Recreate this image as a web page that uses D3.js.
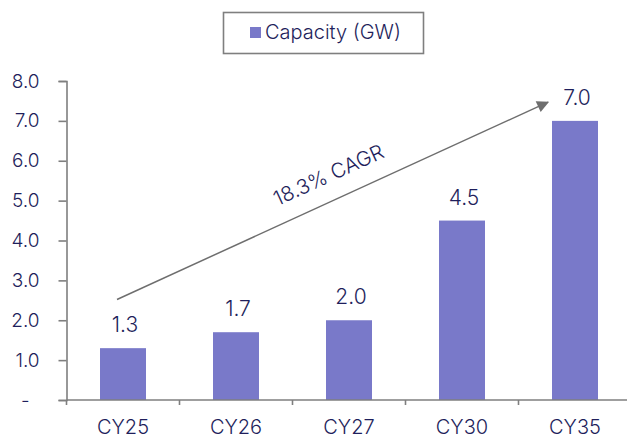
<!DOCTYPE html>
<html>
<head>
<meta charset="utf-8">
<script src="https://cdn.jsdelivr.net/npm/d3@7"></script>
<style>
  html, body { margin: 0; padding: 0; background: #fff; }
  svg { display: block; font-family: Inter, "Liberation Sans", Arial, sans-serif; font-weight: 300; }
</style>
</head>
<body>
<svg id="chart" width="627" height="439"></svg>
<script>
// Installed capacity by calendar year
const categories = ["CY25", "CY26", "CY27", "CY30", "CY35"];
const capacityGW = [1.3, 1.7, 2.0, 4.5, 7.0];
const yTicks = [0, 1, 2, 3, 4, 5, 6, 7, 8];
const seriesName = "Capacity (GW)";
const cagrLabel = "18.3% CAGR";
// growth arrow: [category, value] at each end
const arrowFrom = ["CY25", 2.52];
const arrowTo = ["CY35", 7.47];

const W = 627, H = 439;
const textColor = "#1f1f5c";
const barColor = "#7979c9";
const axisColor = "#7f7f7f";

const svg = d3.select("#chart");

const x = d3.scaleBand()
  .domain(categories)
  .range([66.5, 631.5])
  .paddingInner(0.593)
  .paddingOuter(0.2965);

const y = d3.scaleLinear().domain([0, 8]).range([400, 81]);

// bars
svg.append("g").selectAll("rect")
  .data(categories)
  .join("rect")
  .attr("x", d => x(d))
  .attr("width", x.bandwidth())
  .attr("y", (d, i) => y(capacityGW[i]))
  .attr("height", (d, i) => y(0) - y(capacityGW[i]))
  .attr("fill", barColor);

// value labels
svg.append("g").selectAll("text")
  .data(categories)
  .join("text")
  .attr("x", d => x(d) + x.bandwidth() / 2 + 2)
  .attr("y", (d, i) => y(capacityGW[i]) - 16)
  .attr("text-anchor", "middle")
  .attr("font-size", 21)
  .attr("fill", textColor)
  .text((d, i) => d3.format(".1f")(capacityGW[i]));

// y axis
const yAxis = svg.append("g")
  .attr("transform", `translate(${x.range()[0]},0)`)
  .call(d3.axisLeft(y)
    .tickValues(yTicks)
    .tickSize(8)
    .tickPadding(19)
    .tickFormat(v => v === 0 ? "-" : d3.format(".1f")(v)));
yAxis.select(".domain").attr("stroke", axisColor).attr("stroke-width", 1.6);
yAxis.selectAll(".tick line").attr("stroke", axisColor).attr("stroke-width", 1.6);
yAxis.selectAll(".tick text")
  .attr("font-size", 19)
  .attr("font-family", "Inter, 'Liberation Sans', Arial, sans-serif")
  .attr("font-weight", 300)
  .attr("fill", textColor)
  .attr("dx", v => v === 0 ? -10 : 0);

// x axis: baseline, boundary ticks, category labels
const xg = svg.append("g");
xg.append("line")
  .attr("x1", x.range()[0]).attr("x2", W)
  .attr("y1", y(0)).attr("y2", y(0))
  .attr("stroke", axisColor).attr("stroke-width", 1.6);
const bounds = d3.range(categories.length + 1).map(i => x.range()[0] + i * x.step());
xg.selectAll(".bt")
  .data(bounds)
  .join("line")
  .attr("x1", d => d).attr("x2", d => d)
  .attr("y1", y(0)).attr("y2", y(0) + 5)
  .attr("stroke", axisColor).attr("stroke-width", 1.6);
xg.selectAll("text")
  .data(categories)
  .join("text")
  .attr("x", d => x(d) + x.bandwidth() / 2)
  .attr("y", 434)
  .attr("text-anchor", "middle")
  .attr("font-size", 20)
  .attr("fill", textColor)
  .text(d => d);

// CAGR arrow
const defs = svg.append("defs");
defs.append("marker")
  .attr("id", "arrowhead")
  .attr("viewBox", "0 0 10 10")
  .attr("refX", 9).attr("refY", 5)
  .attr("markerUnits", "userSpaceOnUse")
  .attr("markerWidth", 16).attr("markerHeight", 12)
  .attr("orient", "auto")
  .append("path")
  .attr("d", "M0,0 L10,5 L0,10 Z")
  .attr("fill", "#6e6e6e");

const p0 = [x(arrowFrom[0]) + x.bandwidth() / 2 - 6, y(arrowFrom[1])];
const p1 = [x(arrowTo[0]) + x.bandwidth() / 2 - 27, y(arrowTo[1])];
svg.append("line")
  .attr("x1", p0[0]).attr("y1", p0[1])
  .attr("x2", p1[0]).attr("y2", p1[1])
  .attr("stroke", "#6e6e6e").attr("stroke-width", 1.5)
  .attr("marker-end", "url(#arrowhead)");

const dx = p1[0] - p0[0], dy = p1[1] - p0[1];
const len = Math.hypot(dx, dy);
const ang = Math.atan2(dy, dx) * 180 / Math.PI;
const t = 0.515, off = 18;
const nx = dy / len, ny = -dx / len; // normal pointing up-left
const tx = p0[0] + dx * t + nx * off;
const ty = p0[1] + dy * t + ny * off;
svg.append("text")
  .attr("transform", `translate(${tx},${ty}) rotate(${ang})`)
  .attr("text-anchor", "middle")
  .attr("font-size", 20.5)
  .attr("fill", textColor)
  .text(cagrLabel);

// legend
const lg = svg.append("g");
lg.append("rect")
  .attr("x", 223.5).attr("y", 12.5)
  .attr("width", 200).attr("height", 41)
  .attr("fill", "#fff")
  .attr("stroke", axisColor).attr("stroke-width", 1.6);
lg.append("rect")
  .attr("x", 250).attr("y", 27)
  .attr("width", 11).attr("height", 11)
  .attr("fill", barColor);
lg.append("text")
  .attr("x", 265).attr("y", 39)
  .attr("font-size", 20)
  .attr("fill", textColor)
  .text(seriesName);
</script>
</body>
</html>
